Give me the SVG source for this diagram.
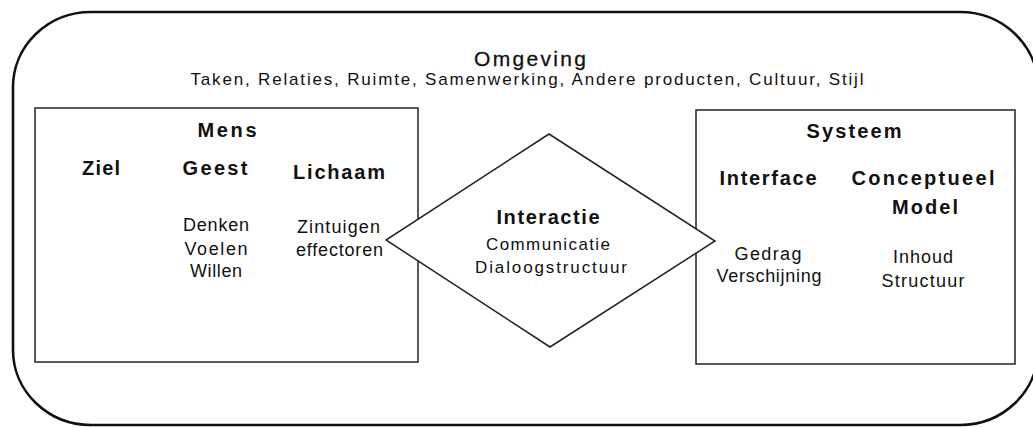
<svg xmlns="http://www.w3.org/2000/svg" width="1033" height="427" viewBox="0 0 1033 427">
<style>
text{font-family:"Liberation Sans",Arial,sans-serif;fill:#111;text-anchor:middle}
.h{font-weight:bold;font-size:20px}
.b{font-size:18px}
.s{font-size:17px}
.o{font-size:21px;stroke:#111;stroke-width:0.3}
.t{font-size:17px}
.box{fill:none;stroke:#222;stroke-width:1.5}
</style>
<rect width="1033" height="427" fill="#fff"/>
<g id="omgeving">
<rect x="13" y="12" width="1025" height="413" rx="78" ry="75" fill="none" stroke="#111" stroke-width="2.6"/>
<text class="o" x="530" y="66" textLength="112" lengthAdjust="spacing">Omgeving</text>
<text class="t" x="527" y="85" textLength="673" lengthAdjust="spacing">Taken, Relaties, Ruimte, Samenwerking, Andere producten, Cultuur, Stijl</text>
</g>
<g id="mens">
<rect class="box" x="35" y="108" width="383" height="254"/>
<text class="h" x="227" y="137" textLength="59" lengthAdjust="spacing">Mens</text>
<text class="h" x="101" y="175" textLength="38" lengthAdjust="spacing">Ziel</text>
<text class="h" x="215" y="175" textLength="65" lengthAdjust="spacing">Geest</text>
<text class="h" x="339" y="179" textLength="92" lengthAdjust="spacing">Lichaam</text>
<text class="b" x="216" y="231" textLength="66" lengthAdjust="spacing">Denken</text>
<text class="b" x="216" y="255" textLength="63" lengthAdjust="spacing">Voelen</text>
<text class="b" x="216" y="277" textLength="52" lengthAdjust="spacing">Willen</text>
<text class="b" x="338.5" y="233" textLength="83" lengthAdjust="spacing">Zintuigen</text>
<text class="b" x="339.5" y="256" textLength="87" lengthAdjust="spacing">effectoren</text>
</g>
<g id="systeem">
<rect class="box" x="696" y="110" width="319" height="254"/>
<text class="h" x="854" y="138" textLength="95" lengthAdjust="spacing">Systeem</text>
<text class="h" x="768" y="185" textLength="97" lengthAdjust="spacing">Interface</text>
<text class="h" x="923" y="185" textLength="143" lengthAdjust="spacing">Conceptueel</text>
<text class="h" x="925" y="214" textLength="66" lengthAdjust="spacing">Model</text>
<text class="b" x="768" y="260" textLength="67" lengthAdjust="spacing">Gedrag</text>
<text class="b" x="769" y="282" textLength="105" lengthAdjust="spacing">Verschijning</text>
<text class="b" x="923" y="263" textLength="60" lengthAdjust="spacing">Inhoud</text>
<text class="b" x="923" y="287" textLength="83" lengthAdjust="spacing">Structuur</text>
</g>
<g id="interactie">
<polygon points="549,134 715,241 550,347 386,240" fill="#fff" stroke="#222" stroke-width="1.5"/>
<text class="h" x="548" y="224" textLength="103" lengthAdjust="spacing">Interactie</text>
<text class="s" x="548" y="250" textLength="124" lengthAdjust="spacing">Communicatie</text>
<text class="s" x="551" y="273" textLength="152" lengthAdjust="spacing">Dialoogstructuur</text>
</g>
<g id="connectors"></g>
</svg>
